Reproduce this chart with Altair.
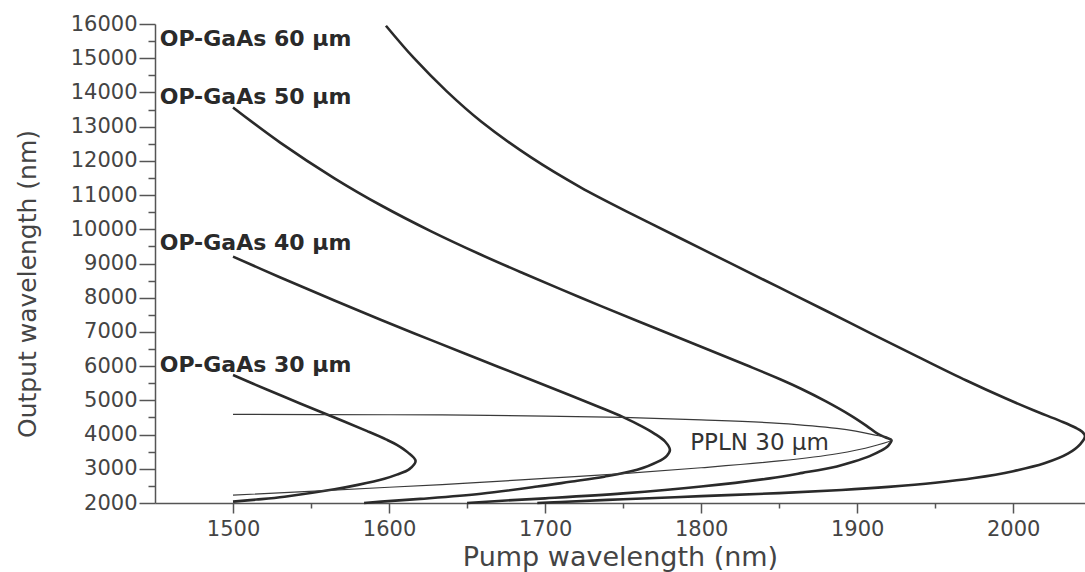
import altair as alt
import pandas as pd

# Quasi-phase-matching tuning curves: each list runs along the idler branch
# down to the turning point and back along the signal branch.
gaas30_pump = [1500, 1522, 1543, 1565, 1586, 1598, 1605, 1612, 1617,
               1613, 1605, 1597, 1580, 1565, 1533, 1515, 1500]
gaas30_out = [5740, 5310, 4910, 4500, 4100, 3860, 3700, 3480, 3230,
              2990, 2830, 2710, 2530, 2400, 2185, 2100, 2040]

gaas40_pump = [1500, 1530, 1565, 1595, 1627, 1659, 1691, 1716, 1735, 1750, 1762, 1770, 1777, 1780,
               1778, 1772, 1759, 1738, 1716, 1695, 1659, 1620, 1595, 1584]
gaas40_out = [9200, 8600, 7920, 7350, 6760, 6180, 5600, 5150, 4800, 4510, 4240, 4030, 3790, 3550,
              3380, 3200, 2970, 2770, 2620, 2480, 2270, 2120, 2040, 2000]

gaas50_pump = [1500, 1530, 1565, 1595, 1627, 1659, 1686, 1723, 1760, 1800, 1830, 1851, 1864, 1880,
               1896, 1906, 1913, 1918, 1922,
               1920, 1915, 1908, 1898, 1887, 1865, 1844, 1800, 1750, 1700, 1670, 1650]
gaas50_out = [13560, 12540, 11490, 10695, 9940, 9255, 8715, 8000, 7305, 6565, 6010, 5610, 5340, 4970,
              4555, 4255, 4025, 3920, 3840,
              3680, 3520, 3370, 3210, 3070, 2880, 2720, 2480, 2280, 2135, 2060, 2000]

gaas60_pump = [1598, 1616, 1637, 1659, 1691, 1723, 1755, 1787, 1820, 1850, 1880, 1910, 1940, 1970,
               1995, 2013, 2030, 2040, 2044, 2046,
               2043, 2035, 2020, 2000, 1975, 1950, 1920, 1890, 1850, 1800, 1750, 1710, 1695]
gaas60_out = [15950, 15000, 14030, 13150, 12100, 11220, 10460, 9730, 8980, 8300, 7620, 6930, 6250, 5580,
              5060, 4710, 4400, 4200, 4090, 3960,
              3720, 3440, 3160, 2930, 2730, 2590, 2470, 2380, 2290, 2200, 2110, 2030, 2000]

ppln30_pump = [1500, 1600, 1650, 1700, 1750, 1800, 1850, 1887, 1910, 1922,
               1910, 1887, 1850, 1800, 1750, 1700, 1650, 1600, 1500]
ppln30_out = [4590, 4580, 4570, 4540, 4500, 4430, 4330, 4180, 4000, 3850,
              3660, 3440, 3230, 3030, 2860, 2720, 2580, 2460, 2230]

label_text = ["OP-GaAs 60 µm", "OP-GaAs 50 µm", "OP-GaAs 40 µm", "OP-GaAs 30 µm"]
label_pump = [1453, 1453, 1453, 1453]
label_out = [15570, 13880, 9600, 6040]

ppln_label_text = ["PPLN 30 µm"]
ppln_label_pump = [1793]
ppln_label_out = [3760]

major_x = [1500, 1600, 1700, 1800, 1900, 2000]
minor_x = [1550, 1650, 1750, 1850, 1950]
major_y = list(range(2000, 16001, 1000))
minor_y = list(range(2500, 16000, 1000))


def curve_frame(name, pump, out):
    return pd.DataFrame({"curve": name, "idx": range(len(pump)), "pump": pump, "out": out})


gaas = pd.concat([
    curve_frame("GaAs 30", gaas30_pump, gaas30_out),
    curve_frame("GaAs 40", gaas40_pump, gaas40_out),
    curve_frame("GaAs 50", gaas50_pump, gaas50_out),
    curve_frame("GaAs 60", gaas60_pump, gaas60_out),
], ignore_index=True)
ppln = curve_frame("PPLN 30", ppln30_pump, ppln30_out)
labels = pd.DataFrame({"pump": label_pump, "out": label_out, "text": label_text})
ppln_labels = pd.DataFrame({"pump": ppln_label_pump, "out": ppln_label_out, "text": ppln_label_text})

FONT = "DejaVu Sans"
AXIS_COLOR = "#555555"
TEXT_COLOR = "#444444"

xscale = alt.Scale(domain=[1450, 2046], nice=False, zero=False)
yscale = alt.Scale(domain=[2000, 16000], nice=False, zero=False)

main_x_axis = alt.Axis(
    values=major_x, format="d", title="Pump wavelength (nm)", grid=False,
    tickSize=10, tickWidth=1.5, tickColor=AXIS_COLOR,
    domainColor=AXIS_COLOR, domainWidth=1.5,
    labelFont=FONT, labelFontSize=21, labelColor=TEXT_COLOR, labelPadding=5, labelFlush=False,
    titleFont=FONT, titleFontSize=27, titleFontWeight="normal", titleColor=TEXT_COLOR,
    titleBaseline="alphabetic", titleY=62, orient="bottom",
)
main_y_axis = alt.Axis(
    values=major_y, format="d", title="Output wavelength (nm)", grid=False,
    tickSize=16, tickWidth=1.5, tickColor=AXIS_COLOR,
    domainColor=AXIS_COLOR, domainWidth=1.5,
    labelFont=FONT, labelFontSize=21, labelColor=TEXT_COLOR, labelPadding=2, labelFlush=False,
    titleFont=FONT, titleFontSize=25, titleFontWeight="normal", titleColor=TEXT_COLOR,
    titleBaseline="alphabetic", titleX=-120, titleY=259.5, titleAlign="center", orient="left",
)
minor_x_axis = alt.Axis(values=minor_x, labels=False, domain=False, grid=False, title=None,
                        tickSize=5, tickWidth=1.5, tickColor=AXIS_COLOR, orient="bottom")
minor_y_axis = alt.Axis(values=minor_y, labels=False, domain=False, grid=False, title=None,
                        tickSize=7, tickWidth=1.5, tickColor=AXIS_COLOR, orient="left")

gaas_lines = alt.Chart(gaas).mark_line(
    color="#2a2a2a", strokeWidth=2.6, strokeJoin="round", interpolate="catmull-rom"
).encode(
    x=alt.X("pump:Q", scale=xscale, axis=main_x_axis),
    y=alt.Y("out:Q", scale=yscale, axis=main_y_axis),
    detail="curve:N",
    order="idx:Q",
)

ppln_line = alt.Chart(ppln).mark_line(
    color="#3a3a3a", strokeWidth=1.2, interpolate="catmull-rom"
).encode(
    x=alt.X("pump:Q", scale=xscale, axis=None),
    y=alt.Y("out:Q", scale=yscale, axis=None),
    order="idx:Q",
)

minor_ticks = alt.Chart(ppln).mark_point(opacity=0).encode(
    x=alt.X("pump:Q", scale=xscale, axis=minor_x_axis),
    y=alt.Y("out:Q", scale=yscale, axis=minor_y_axis),
)

gaas_text = alt.Chart(labels).mark_text(
    font=FONT, fontSize=22, fontWeight="bold", color="#2a2a2a", align="left", baseline="middle"
).encode(
    x=alt.X("pump:Q", scale=xscale, axis=None),
    y=alt.Y("out:Q", scale=yscale, axis=None),
    text="text:N",
)

ppln_text = alt.Chart(ppln_labels).mark_text(
    font=FONT, fontSize=23, color="#333333", align="left", baseline="middle"
).encode(
    x=alt.X("pump:Q", scale=xscale, axis=None),
    y=alt.Y("out:Q", scale=yscale, axis=None),
    text="text:N",
)

chart = alt.layer(gaas_lines, minor_ticks, ppln_line, gaas_text, ppln_text).resolve_axis(
    x="independent", y="independent"
).properties(
    width=930, height=479,
    autosize=alt.AutoSizeParams(type="none"),
    padding={"left": 155, "top": 24, "right": 0, "bottom": 69},
    background="white",
).configure_view(stroke=None)

chart.save("out.html", embed_options={"renderer": "svg", "actions": False})
